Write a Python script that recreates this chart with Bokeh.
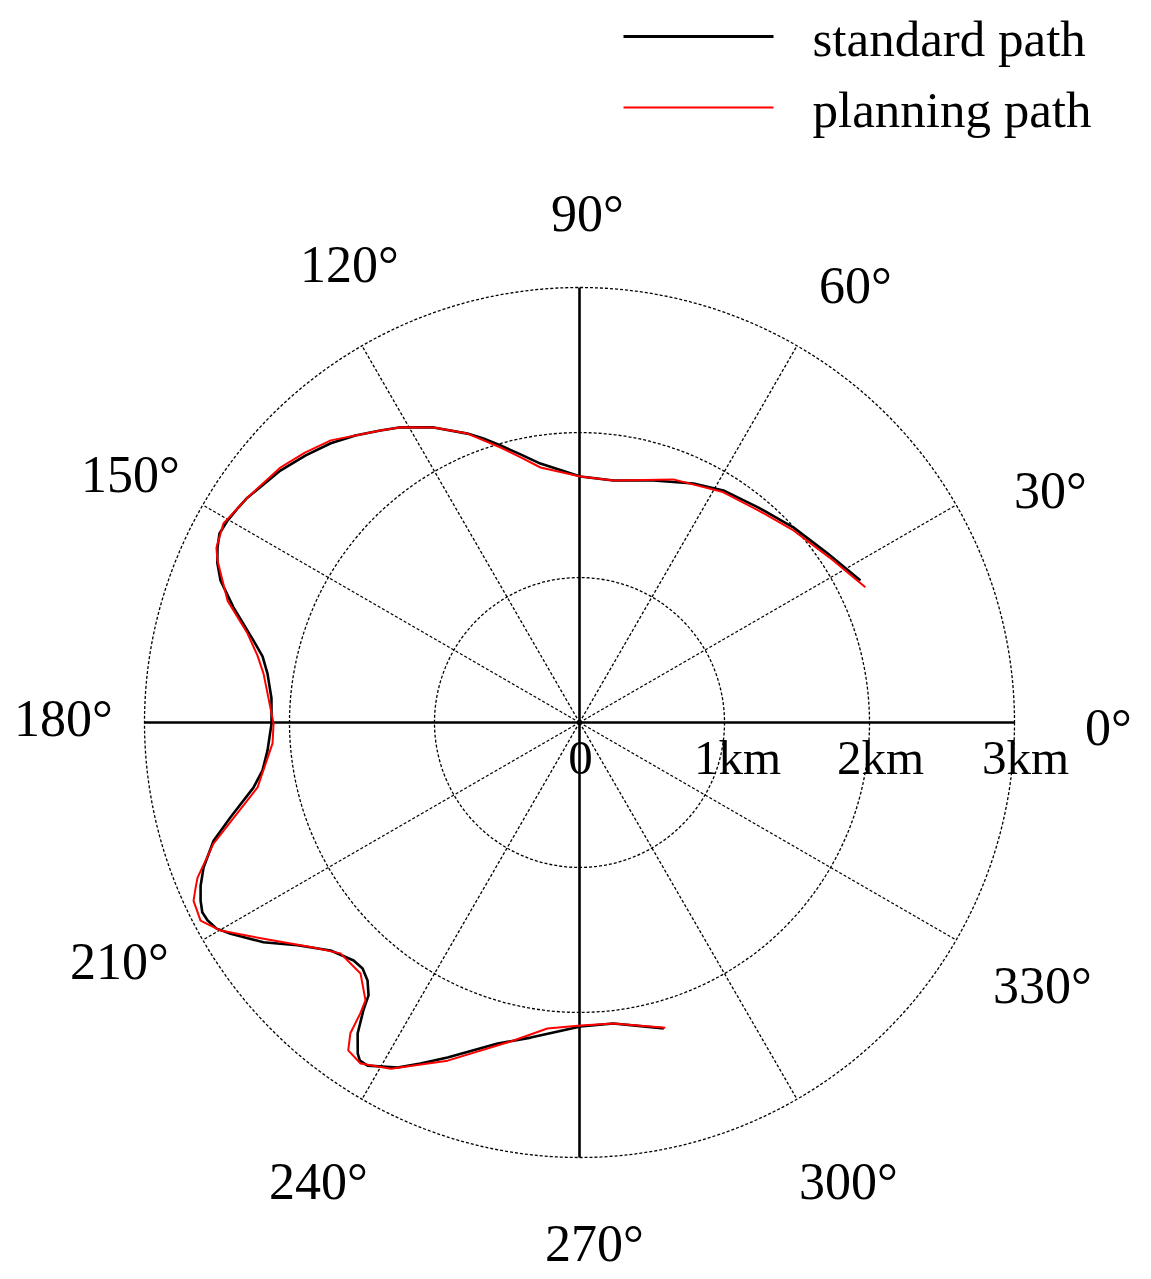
import numpy as np
from bokeh.plotting import figure
from bokeh.models import Range1d
from bokeh.core.properties import value
from bokeh.embed import file_html
from bokeh.resources import INLINE

# ---------------- data (polar: angle in degrees, radius in km) ----------------
std_theta = [26.8, 34.3, 42.3, 50.2, 58.2, 64.5, 73.0, 82.0, 89.8, 98.6, 102.4, 105.9,
             108.7, 111.2, 116.3, 121.2, 124.3, 128.0, 131.7, 135.7, 139.9, 145.9,
             148.0, 150.2, 152.3, 154.2, 156.2, 158.4, 161.6, 165.9, 168.2, 171.1,
             175.5, 180.2, 185.1, 188.6, 191.3, 195.2, 197.9, 201.1, 203.3, 205.2,
             206.7, 208.0, 209.6, 211.2, 214.8, 218.3, 222.5, 226.5, 228.6, 230.6,
             232.3, 233.1, 234.5, 236.2, 237.0, 238.3, 242.2, 245.0, 248.5, 255.7,
             261.2, 270.2, 276.4, 285.4]
std_r = [2.171, 2.070, 1.997, 1.929, 1.883, 1.826, 1.745, 1.685, 1.697, 1.806, 1.893, 1.986,
         2.068, 2.137, 2.270, 2.380, 2.437, 2.511, 2.579, 2.638, 2.697, 2.766,
         2.782, 2.799, 2.804, 2.773, 2.730, 2.663, 2.515, 2.318, 2.233, 2.178,
         2.131, 2.124, 2.160, 2.211, 2.293, 2.494, 2.652, 2.779, 2.845, 2.888,
         2.912, 2.906, 2.878, 2.812, 2.655, 2.479, 2.328, 2.263, 2.262, 2.303,
         2.379, 2.483, 2.635, 2.749, 2.781, 2.781, 2.690, 2.595, 2.483, 2.285,
         2.199, 2.097, 2.089, 2.188]

plan_theta = [25.3, 33.4, 41.9, 49.8, 58.1, 68.9, 82.0, 89.8, 98.7, 102.4, 106.0, 111.2,
              116.3, 121.2, 124.3, 131.4, 135.5, 139.5, 145.9, 150.8, 154.3, 155.9,
              160.9, 165.0, 168.2, 171.2, 180.2, 183.9, 191.4, 198.3, 202.1, 203.3,
              204.8, 207.6, 210.1, 214.4, 220.2, 224.0, 228.9, 232.4, 233.0, 233.6,
              234.8, 237.3, 241.4, 248.7, 258.3, 264.0, 270.2, 276.4, 285.7]
plan_r = [2.181, 2.066, 1.983, 1.914, 1.872, 1.797, 1.685, 1.697, 1.779, 1.870, 1.973, 2.137,
          2.270, 2.380, 2.437, 2.594, 2.655, 2.710, 2.766, 2.813, 2.779, 2.735,
          2.569, 2.370, 2.270, 2.205, 2.110, 2.122, 2.265, 2.659, 2.843, 2.883,
          2.932, 2.949, 2.861, 2.640, 2.403, 2.292, 2.297, 2.419, 2.512, 2.663,
          2.767, 2.795, 2.719, 2.503, 2.240, 2.122, 2.090, 2.089, 2.186]

ring_radii = [1, 2, 3]
radial_values = [0, 1, 2, 3]
radial_labels = ["0", "1km", "2km", "3km"]
spoke_angles = [30, 60, 120, 150, 210, 240, 300, 330]
axis_angles = [0, 90, 180, 270]
angle_ticks = [0, 30, 60, 90, 120, 150, 180, 210, 240, 270, 300, 330]
angle_labels = ["0°", "30°", "60°", "90°", "120°", "150°",
                "180°", "210°", "240°", "270°", "300°", "330°"]
series_names = ["standard path", "planning path"]
series_colors = ["black", "red"]

# ---------------- layout ----------------
W, H = 1143, 1279
S = 145.0                  # px per km
CX, CY = 579, 722          # centre in canvas px
RMAX = 3.0

# label centres, screen px relative to the pole (right, up)
label_dx = [529, 471, 276, 8, -230, -449, -516, -460, -261, 15, 269, 463]
label_dy = [-5, 232, 437, 509, 458, 248, 4, -239, -459, -521, -459, -263]

def sx(xp):  # canvas px -> data
    return (xp - CX) / S

def sy(yp):
    return (CY - yp) / S

p = figure(width=W, height=H, output_backend="svg", toolbar_location=None,
           x_range=Range1d(-CX / S, (W - CX) / S),
           y_range=Range1d(-(H - CY) / S, CY / S),
           x_axis_location=None, y_axis_location=None,
           min_border=0, outline_line_color=None)
p.grid.visible = False
p.background_fill_color = "white"
p.border_fill_color = "white"

FONT = value("Liberation Serif")

# rings
for r in ring_radii:
    p.circle(x=0, y=0, radius=r, fill_color=None, line_color="black",
             line_width=1.3, line_dash="3 2")

# dotted spokes
for a in spoke_angles:
    t = np.deg2rad(a)
    p.line([0, RMAX * np.cos(t)], [0, RMAX * np.sin(t)], line_color="black",
           line_width=1.3, line_dash="3 2")

# solid axes
for a in axis_angles:
    t = np.deg2rad(a)
    p.line([0, RMAX * np.cos(t)], [0, RMAX * np.sin(t)], line_color="black",
           line_width=2.6)

# radial labels
p.text(x=radial_values, y=[0] * len(radial_values), text=radial_labels,
       x_offset=[1, 13, 11, 11], y_offset=35,
       text_font=FONT, text_font_size="49px", text_color="black",
       text_align="center", text_baseline="middle")

# angle labels
p.text(x=[d / S for d in label_dx], y=[d / S for d in label_dy], text=angle_labels,
       text_font=FONT, text_font_size="52px", text_color="black",
       text_align="center", text_baseline="middle")

# paths
st = np.deg2rad(std_theta)
p.line(np.array(std_r) * np.cos(st), np.array(std_r) * np.sin(st),
       line_color=series_colors[0], line_width=2.6, line_join="round")
pt = np.deg2rad(plan_theta)
p.line(np.array(plan_r) * np.cos(pt), np.array(plan_r) * np.sin(pt),
       line_color=series_colors[1], line_width=2.0, line_join="round")

# legend (drawn manually)
leg_y = [36, 107]
for name, col, yp, lw in zip(series_names, series_colors, leg_y, [3, 2]):
    p.line([sx(623), sx(773)], [sy(yp), sy(yp)], line_color=col, line_width=lw)
    p.text(x=[sx(812)], y=[sy(yp + 2)], text=[name], text_font=FONT,
           text_font_size="51px", text_color="black",
           text_align="left", text_baseline="middle")

open("out.html", "w").write(file_html(p, INLINE))
